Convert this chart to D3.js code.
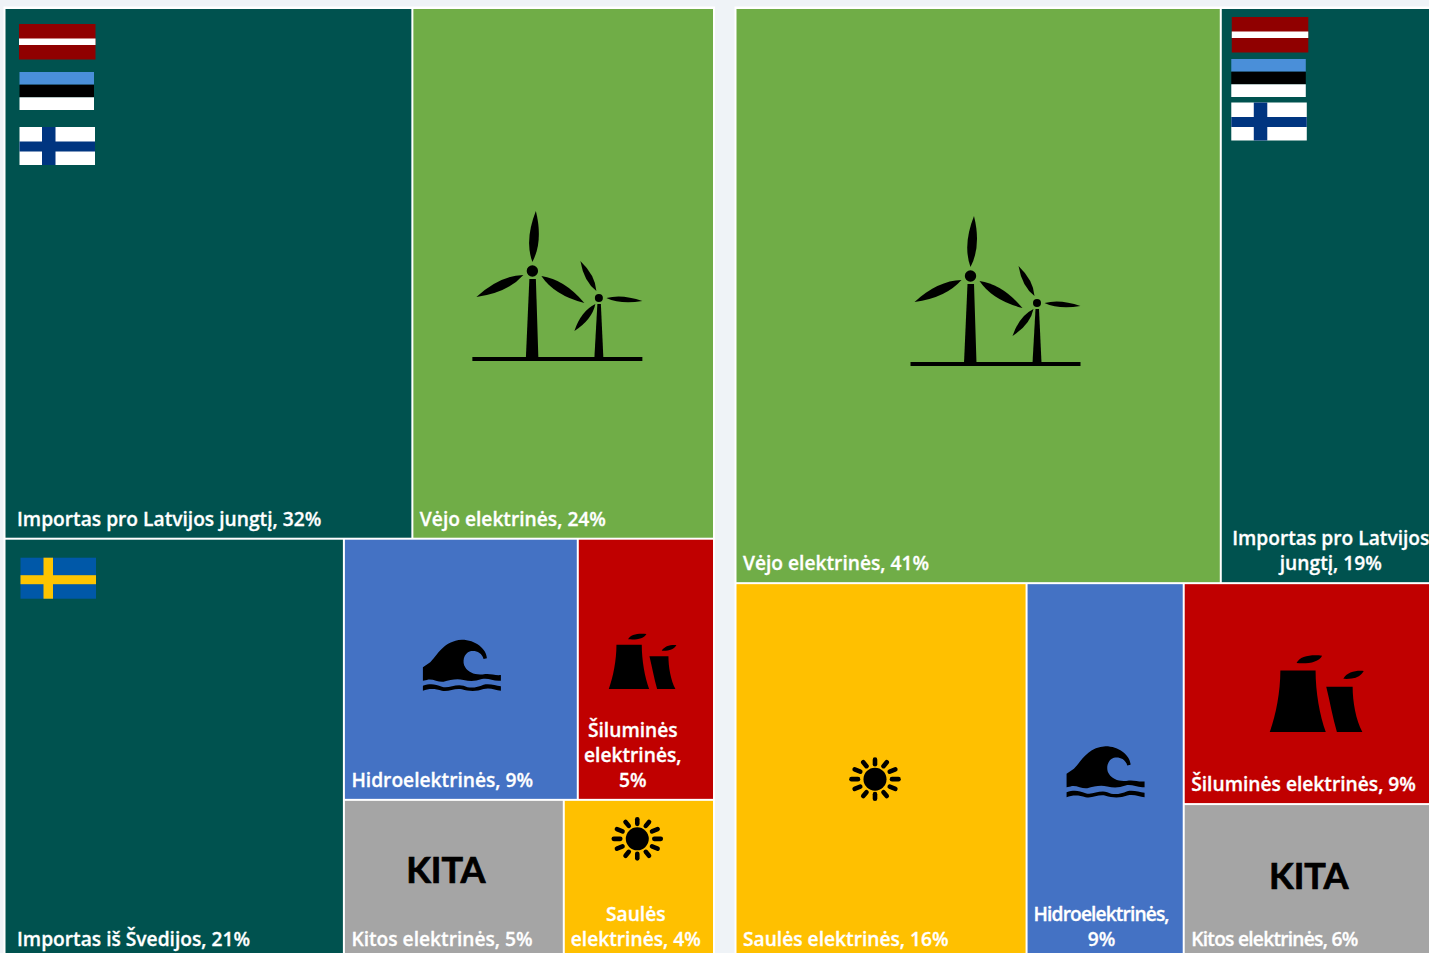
<!DOCTYPE html>
<html lang="en">
<head>
  <meta charset="utf-8">
  <title>Elektros šaltiniai</title>
  <script src="https://d3js.org/d3.v7.min.js"></script>
  <style>
    html, body { margin: 0; padding: 0; background: #eff3f7; overflow: hidden; }
    svg { display: block; }
    text { font-family: "Open Sans", sans-serif; }
  </style>
</head>
<body>
<script type="text/javascript">

  // Category keys, one colour each
  var categories = ["import", "wind", "hydro", "thermal", "other", "solar"];
  var categoryColors = ["#00524f", "#70ad47", "#4472c4", "#c00000", "#a5a5a5", "#ffc000"];

  var leftKeys = ["import", "wind", "import", "hydro", "thermal", "other", "solar"];
  var leftValues = [32.25, 23.85, 21.0, 9.1, 5.3, 5.05, 3.45];
  var leftLabels = ["Importas pro Latvijos jungtį, 32%", "Vėjo elektrinės, 24%", "Importas iš Švedijos, 21%",
                    "Hidroelektrinės, 9%", "Šiluminės\nelektrinės,\n5%", "Kitos elektrinės, 5%", "Saulės\nelektrinės, 4%"];

  // Right treemap
  var rightKeys = ["wind", "import", "solar", "hydro", "thermal", "other"];
  var rightValues = [42.15, 18.65, 16.3, 8.8, 8.4, 5.7];
  var rightLabels = ["Vėjo elektrinės, 41%", "Importas pro Latvijos\njungtį, 19%", "Saulės elektrinės, 16%",
                     "Hidroelektrinės,\n9%", "Šiluminės elektrinės, 9%", "Kitos elektrinės, 6%"];

  var svg_width = 1429;
  var svg_height = 953;

  var color = d3.scaleOrdinal().domain(categories).range(categoryColors);

  var svg = d3.select("body")
              .append("svg")
              .attr("width", svg_width)
              .attr("height", svg_height);

  // One leaf of the tree, index i of a panel
  function leaf(panel, i) {
    return { key: panel.keys[i], label: panel.labels[i], value: panel.values[i], index: i };
  }

  var leftPanel = { keys: leftKeys, labels: leftLabels, values: leftValues, x: 5.5, y: 9, w: 707.5, h: 944 };
  var rightPanel = { keys: rightKeys, labels: rightLabels, values: rightValues, x: 736.5, y: 9, w: 698, h: 944 };

  // dice = side by side, slice = stacked
  leftPanel.tree = { dir: "slice", children: [
    { dir: "dice", children: [leaf(leftPanel, 0), leaf(leftPanel, 1)] },
    { dir: "dice", children: [leaf(leftPanel, 2), { dir: "slice", children: [
      { dir: "dice", children: [leaf(leftPanel, 3), leaf(leftPanel, 4)] },
      { dir: "dice", children: [leaf(leftPanel, 5), leaf(leftPanel, 6)] }
    ] }] }
  ] };
  rightPanel.tree = { dir: "slice", children: [
    { dir: "dice", children: [leaf(rightPanel, 0), leaf(rightPanel, 1)] },
    { dir: "dice", children: [leaf(rightPanel, 2), leaf(rightPanel, 3), { dir: "slice", children: [
      leaf(rightPanel, 4), leaf(rightPanel, 5)
    ] }] }
  ] };

  // Left inset of one line labels, and centre of the wrapped ones, from the cell's left edge
  leftPanel.labelInset = { 0: 11.5, 2: 11.5 };
  leftPanel.labelCenter = { 4: 54, 6: 71 };
  rightPanel.labelInset = {};
  rightPanel.labelCenter = { 1: 109, 3: 74 };

  // These first lines are set tighter in the picture
  leftPanel.labelFit = {};
  rightPanel.labelFit = { 3: 136, 5: 167 };

  // Offsets of the pictures inside their cells
  leftPanel.decor = {
    0: [["flags3", 13.5, 15, 1]],
    1: [["wind", 58, 202, 1]],
    2: [["sweden", 15, 18, 1]],
    3: [["wave", 78, 100, 1]],
    4: [["plant", 30, 94, 1]],
    5: [["kita", 101, 82, 1]],
    6: [["sun", 72.5, 38, 1]]
  };
  rightPanel.decor = {
    0: [["wind", 173, 207, 1]],
    1: [["flags3b", 10, 8, 1]],
    2: [["sun", 138.5, 195, 1]],
    3: [["wave", 39, 162, 1]],
    4: [["plant", 85, 71, 1.39]],
    5: [["kita", 124, 84, 1]]
  };

  // Lens shaped turbine blade from base to tip
  function blade(bx, by, tx, ty, w) {
    var dx = tx - bx, dy = ty - by;
    var len = Math.sqrt(dx * dx + dy * dy);
    var nx = -dy / len * w, ny = dx / len * w;
    var mx = bx + dx * 0.42, my = by + dy * 0.42;
    return "M" + bx + " " + by +
           "Q" + (mx + nx) + " " + (my + ny) + " " + tx + " " + ty +
           "Q" + (mx - nx) + " " + (my - ny) + " " + bx + " " + by + "Z";
  }

  var iconDrawers = {
    wind: function(g) {
      g.append("rect").attr("x", 1).attr("y", 146).attr("width", 170).attr("height", 4);
      g.append("path").attr("d", "M58 68L64.5 68L67 147L54.5 147Z");
      g.append("path").attr("d", "M126 93L129.5 93L132 147L123 147Z");
      g.append("circle").attr("cx", 61).attr("cy", 60).attr("r", 5.7);
      g.append("circle").attr("cx", 127.5).attr("cy", 87).attr("r", 4);
      [[61, 51, 64.5, 0, 9.5], [52, 64, 5, 86, 9.5], [70, 65, 113, 92, 9.5],
       [125, 80, 109, 50, 6.5], [135, 87, 171, 90, 5.5], [124, 93, 103, 120, 7]].forEach(function(b) {
        g.append("path").attr("d", blade(b[0], b[1], b[2], b[3], b[4]));
      });
    },
    wave: function(g) {
      g.append("path").attr("transform", "scale(0.3333)")
       .attr("d", "M0 83L22 68C42 48 62 3 117 0C157 0 192 28 192 56L182 58C177 38 157 31 142 35C122 41 117 68 127 83C137 101 162 108 187 103C202 101 217 108 234 106L234 123C212 126 197 113 177 118C157 125 142 125 122 121C102 115 82 121 62 126C47 129 27 115 12 121L0 123Z");
      g.append("path").attr("transform", "scale(0.3333)")
       .attr("d", "M0 138C22 131 37 133 57 141C77 148 97 131 122 138C142 148 162 143 182 135C202 131 217 138 234 140L234 153C217 151 202 143 182 148C162 156 137 155 117 149C97 143 77 158 57 153C37 146 17 146 0 153Z");
    },
    plant: function(g) {
      var t = g.append("g").attr("transform", "scale(0.3333)");
      t.append("path").attr("d", "M23 33L99 33C99 80 108 130 121 166L0 166C13 130 23 80 23 33Z");
      t.append("path").attr("d", "M122 68L179 68C179 100 186 140 200 166L145 166C136 135 130 100 122 68Z");
      t.append("path").attr("d", "M58 17C64 1 92 -2 113 1C106 15 84 19 58 17Z");
      t.append("path").attr("d", "M159 51C166 36 188 32 203 34C195 49 178 52 159 51Z");
    },
    sun: function(g) {
      // The rays sit on a slightly flattened ring, the disc stays round
      g.append("circle").attr("r", 11.5);
      d3.range(12).forEach(function(i) {
        var a = i * Math.PI / 6;
        g.append("line")
         .attr("x1", 17 * Math.cos(a)).attr("y1", 15 * Math.sin(a))
         .attr("x2", 23.5 * Math.cos(a)).attr("y2", 19.5 * Math.sin(a))
         .attr("stroke", "black").attr("stroke-width", 4.6).attr("stroke-linecap", "round");
      });
    },
    kita: function(g) {
      g.append("text").text("KITA")
       .attr("text-anchor", "middle")
       .attr("font-size", "36px")
       .attr("font-weight", 700)
       .attr("stroke", "black")
       .attr("stroke-width", 0.7)
       .style("font-family", "Lato, sans-serif");
    },
    flags3: function(g) {
      drawLatvia(g, 0, 0);
      drawEstonia(g, 0.5, 48);
      drawFinland(g, 0.5, 103);
    },
    flags3b: function(g) {
      drawLatvia(g, 0, 0);
      drawEstonia(g, -0.5, 42);
      drawFinland(g, -0.5, 85.5);
    },
    sweden: function(g) {
      g.append("rect").attr("width", 75.5).attr("height", 41).attr("fill", "#0058a8");
      g.append("rect").attr("x", 23).attr("width", 9.5).attr("height", 41).attr("fill", "#fdc400");
      g.append("rect").attr("y", 17.5).attr("width", 75.5).attr("height", 9).attr("fill", "#fdc400");
    }
  };

  function drawLatvia(g, x, y) {
    g.append("rect").attr("x", x).attr("y", y).attr("width", 76.5).attr("height", 35.5).attr("fill", "#900000");
    g.append("rect").attr("x", x).attr("y", y + 14.5).attr("width", 76.5).attr("height", 6.5).attr("fill", "white");
  }

  function drawEstonia(g, x, y) {
    g.append("rect").attr("x", x).attr("y", y).attr("width", 74.5).attr("height", 12.7).attr("fill", "#4a8fd9");
    g.append("rect").attr("x", x).attr("y", y + 12.7).attr("width", 74.5).attr("height", 12.6).attr("fill", "black");
    g.append("rect").attr("x", x).attr("y", y + 25.3).attr("width", 74.5).attr("height", 12.7).attr("fill", "white");
  }

  function drawFinland(g, x, y) {
    g.append("rect").attr("x", x).attr("y", y).attr("width", 75.5).attr("height", 38).attr("fill", "white");
    g.append("rect").attr("x", x + 22.5).attr("y", y).attr("width", 13.5).attr("height", 38).attr("fill", "#003580");
    g.append("rect").attr("x", x).attr("y", y + 14.5).attr("width", 75.5).attr("height", 10).attr("fill", "#003580");
  }

  // Draw one treemap panel
  function generateVis(panel) {
    // White sheet behind the cells, it also gives the thin border
    svg.append("rect")
       .attr("x", panel.x - 2)
       .attr("y", panel.y - 2.5)
       .attr("width", panel.w + 4)
       .attr("height", panel.h + 5)
       .attr("fill", "white");

    var root = d3.hierarchy(panel.tree).sum(function(d) { return d.value || 0; });

    d3.treemap()
      .size([panel.w, panel.h])
      .paddingInner(2)
      .tile(function(node, x0, y0, x1, y1) {
        var tile = node.data.dir === "dice" ? d3.treemapDice : d3.treemapSlice;
        tile(node, x0, y0, x1, y1);
      })(root);

    var cells = svg.append("g")
                   .attr("transform", "translate(" + panel.x + "," + panel.y + ")")
                   .selectAll("g")
                   .data(root.leaves())
                   .enter()
                   .append("g")
                   .attr("transform", function(d) { return "translate(" + d.x0 + "," + d.y0 + ")"; });

    cells.append("rect")
         .attr("width", function(d) { return d.x1 - d.x0; })
         .attr("height", function(d) { return d.y1 - d.y0; })
         .attr("fill", function(d) { return color(d.data.key); });

    // Pictures
    cells.each(function(d) {
      var cell = d3.select(this);
      (panel.decor[d.data.index] || []).forEach(function(item) {
        var g = cell.append("g")
                    .attr("transform", "translate(" + item[1] + "," + item[2] + ") scale(" + item[3] + ")");
        iconDrawers[item[0]](g);
      });
    });

    // Labels sit on the bottom edge, the lowest row is cut by the picture so it sits closer
    cells.each(function(d) {
      var cell = d3.select(this);
      var lines = d.data.label.split("\n");
      var center = panel.labelCenter[d.data.index];
      var inset = panel.labelInset[d.data.index] || 6.5;
      var fit = panel.labelFit[d.data.index];
      var bottom = d.y1 - d.y0 - (d.y1 >= panel.h - 1 ? 7 : 12);
      cell.selectAll("text.label")
          .data(lines)
          .enter()
          .append("text")
          .attr("class", "label")
          .text(function(t) { return t; })
          .attr("x", center === undefined ? inset : center)
          .attr("y", function(t, i) { return bottom - (lines.length - 1 - i) * 25; })
          .attr("text-anchor", center === undefined ? "start" : "middle")
          .attr("textLength", function(t, i) { return fit && i === 0 ? fit : null; })
          .attr("fill", "white")
          .attr("stroke", "white")
          .attr("stroke-width", 0.3)
          .attr("font-size", "19.2px")
          .attr("font-weight", 600);
    });
  }

  generateVis(leftPanel);
  generateVis(rightPanel);

</script>
</body>
</html>
